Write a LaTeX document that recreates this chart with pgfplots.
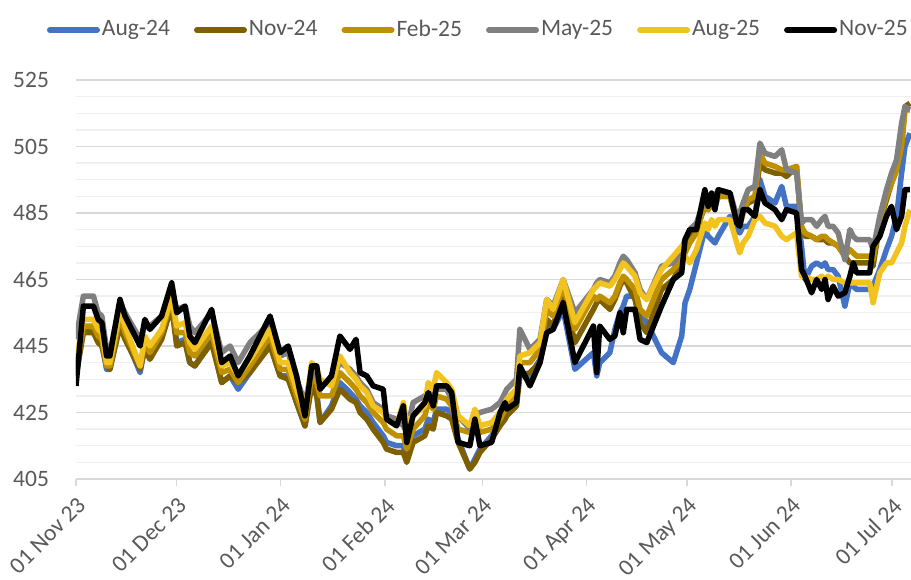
\documentclass[border=0pt]{standalone}
\usepackage{fontspec}
\setmainfont{Carlito}
\usepackage{pgfplots}
\pgfplotsset{compat=1.18}
\usepackage{pgfplotstable}
\definecolor{cblue}{HTML}{4472C4}
\definecolor{cbrown}{HTML}{7F6000}
\definecolor{cgold}{HTML}{BF9000}
\definecolor{cgray}{HTML}{808080}
\definecolor{cyellow}{HTML}{F2C31E}
\definecolor{labelgray}{HTML}{595959}
\definecolor{majgrid}{HTML}{D9D9D9}
\definecolor{mingrid}{HTML}{F0F0F0}

\pgfplotstableread{
d blu brn gld gry yel blk
0 436 436 438 447 440 433
2.2 450 449 451 460 453 457
5.2 451 449 451 460 453 457
6.6 447 446 448 455 450 453
7.7 446 445 447 454 449 452
9.1 438 439 439 444 440 442
10.1 438 438 439 443 440 442
13.1 453 451 454 458 456 459
14.6 448 447 449 455 451 454
19.1 437 438 439 447 439 445
20.5 445 444 446 451 448 453
22.0 442 441 443 451 445 450
25.5 448 447 449 454 450 454
28.5 458 457 459 462 460 464
30.0 446 445 449 456 451 455
32.5 447 446 449 457 452 457
33.9 440 440 443 451 446 448
35.4 439 439 442 449 444 446
40.4 447 446 449 455 451 456
43.4 434 434 437 443 439 440
45.9 436 436 438 445 440 442
48.3 432 434 434 440 436 436
51.8 437 437 439 446 441 442
57.8 446 445 448 452 450 454
60.8 436 436 438 442 440 443
63.2 436 435 438 443 440 445
65.7 428 428 430 435 432 436
68.2 421 421 423 428 425 424
70.2 434 433 436 437 440 439
71.7 431 430 434 436 438 439
72.7 422 422 430 433 435 432
76.1 427 426 430 435 433 436
78.6 434 432 437 440 442 448
81.6 431 429 434 438 437 444
83.4 429 428 432 436 435 447
84.6 427 425 430 434 433 437
86.6 425 423 428 432 431 436
88.5 422 420 425 428 427 433
91.5 418 416 422 426 425 432
92.5 416 414 420 424 423 423
95.5 415 413 418 423 421 421
97.5 415 413 418 421 428 427
98.5 411 410 414 419 422 416
100.4 418 416 420 428 424 424
103.9 420 418 424 430 427 428
104.9 423 421 428 431 434 431
106.4 422 420 426 430 432 427
107.4 426 425 430 432 437 433
110.4 426 424 429 432 434 433
111.9 425 423 427 429 432 431
113.8 417 416 420 424 424 416
117.3 408 408 419 420 421 415
118.8 411 410 423 424 426 423
120.3 414 413 419 425 421 415
123.8 418 417 420 426 422 416
126.3 422 421 423 428 425 425
127.8 425 423 426 431 428 428
128.3 426 424 427 432 429 426
131.2 429 427 430 435 432 428
132.2 437 436 440 450 442 439
135.2 436 437 440 444 443 433
138.2 441 440 444 447 446 440
140.2 451 453 456 459 459 449
142.1 450 451 454 457 456 450
145.1 456 461 463 465 465 458
148.6 438 446 450 455 452 440
154.1 443 456 460 462 462 451
155.1 436 458 459 464 463 437
156.0 440 459 460 465 464 451
159.0 443 456 458 464 463 447
160.5 450 459 460 466 465 448
162.0 455 463 464 470 468 455
163.0 457 465 466 472 470 449
164.0 460 464 465 471 469 456
166.5 460 459 462 467 466 456
168.0 455 452 456 462 461 447
170.0 452 449 454 459 459 446
174.4 443 462 465 469 468 457
177.9 440 465 468 470 472 465
180.4 448 470 471 474 475 467
181.4 458 474 473 477 472 477
182.8 462 478 476 480 470 480
184.8 470 480 479 482 474 480
187.3 480 487 488 489 482 492
188.3 478 486 486 488 480 487
189.3 477 488 488 490 483 491
190.3 476 487 487 490 481 486
191.3 478 490 490 492 483 492
194.8 484 490 490 491 483 491
196.8 480 483 482 484 476 482
197.7 479 482 481 485 473 481
198.7 481 486 485 488 476 486
200.2 481 488 489 492 478 486
202.2 484 489 490 493 483 484
203.7 495 500 503 506 484 492
205.2 490 498 500 503 482 488
208.2 488 497 499 502 481 486
210.2 493 497 498 504 478 483
211.6 487 496 498 498 477 486
214.6 487 499 499 497 479 485
216.1 475 480 481 482 466 468
217.1 465 478 479 483 466 466
219.1 469 478 478 483 465 461
220.6 470 477 477 481 465 465
222.1 469 477 478 483 466 462
223.1 470 477 478 484 465 465
224.0 468 476 477 481 466 459
225.5 468 476 476 481 465 463
227.0 466 475 475 479 465 460
229.0 457 472 472 471 464 461
230.5 464 470 474 480 464 466
231.5 463 470 473 478 464 470
232.5 462 470 472 477 464 467
236.4 462 470 472 477 464 467
237.4 463 469 471 474 458 475
239.4 468 482 483 484 467 478
241.4 474 489 490 492 470 484
242.9 478 494 494 497 470 487
244.4 484 498 498 501 473 480
245.9 497 505 505 512 476 484
246.9 505 517 516 517 481 492
248.4 509 518 516 516 486 492
}\data

\begin{document}
\fontsize{23.5}{28}\selectfont
\begin{tikzpicture}
\begin{axis}[
  scale only axis, width=835pt, height=399pt,
  xmin=0, xmax=248.7, ymin=405, ymax=525,
  axis lines*=left,
  x axis line style={draw=majgrid, line width=1.3pt},
  y axis line style={draw=none},
  ytick={405,425,445,465,485,505,525},
  minor ytick={410,415,420,430,435,440,450,455,460,470,475,480,490,495,500,510,515,520},
  ymajorgrids, yminorgrids,
  major grid style={draw=majgrid, line width=1.3pt},
  minor grid style={draw=mingrid, line width=1.3pt},
  xtick={0,30,61,92,121,152,182,213,243},
  xticklabels={01 Nov 23,01 Dec 23,01 Jan 24,01 Feb 24,01 Mar 24,01 Apr 24,01 May 24,01 Jun 24,01 Jul 24},
  tick align=outside,
  xtick style={draw=majgrid, line width=1.3pt},
  ytick style={draw=none},
  major tick length=7pt,
  minor tick length=0pt,
  /pgf/number format/assume math mode=true,
  tick label style={font=\fontsize{23.5}{28}\selectfont, text=labelgray},
  yticklabel style={anchor=east, xshift=-12pt},
  xticklabel shift=7pt,
  xticklabel style={rotate=45, anchor=north east, inner sep=2pt},
  legend columns=6,
  legend style={at={(-0.035,1.125)}, anchor=west, draw=none, fill=none,
    inner sep=0pt, font=\fontsize{23.5}{28}\selectfont, text=labelgray,
    /tikz/every even column/.append style={column sep=22pt}},
  legend image code/.code={\draw[#1, line width=6pt, line cap=round] (3pt,0pt) -- (50pt,0pt);},
  line join=round,
]
\addplot[cblue, line width=5.5pt] table[x=d,y=blu]{\data};
\addlegendentry{Aug-24}
\addplot[cbrown, line width=5.5pt] table[x=d,y=brn]{\data};
\addlegendentry{Nov-24}
\addplot[cgold, line width=5.5pt] table[x=d,y=gld]{\data};
\addlegendentry{Feb-25}
\addplot[cgray, line width=5.5pt] table[x=d,y=gry]{\data};
\addlegendentry{May-25}
\addplot[cyellow, line width=5.5pt] table[x=d,y=yel]{\data};
\addlegendentry{Aug-25}
\addplot[black, line width=5.5pt] table[x=d,y=blk]{\data};
\addlegendentry{Nov-25}
\end{axis}
\pgfresetboundingbox
\path[use as bounding box] (-76pt,-101pt) rectangle (835pt,479pt);
\end{tikzpicture}
\end{document}
